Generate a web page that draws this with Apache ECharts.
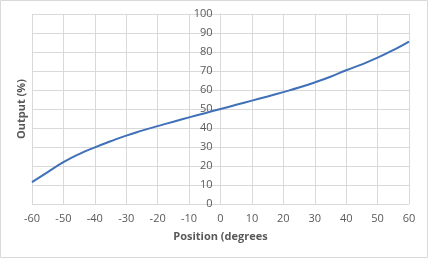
<!DOCTYPE html>
<html><head><meta charset="utf-8">
<script src="https://cdn.jsdelivr.net/npm/echarts@6/dist/echarts.min.js"></script>
<style>html,body{margin:0;padding:0;background:#fff}#c{width:428px;height:258px}</style>
</head><body><div id="c"></div>
<script>
const positions = [-60,-55,-50,-45,-40,-35,-30,-25,-20,-15,-10,-5,0,5,10,15,20,25,30,35,40,45,50,55,60];
const outputs = [11.5,16.8,22,26.3,29.8,33,36,38.6,41,43.3,45.6,47.8,50,52.2,54.4,56.6,58.9,61.3,64,67,70.4,73.5,77,81,85.5];
const xTitle = 'Position (degrees';
const yTitle = 'Output (%)';
const chart = echarts.init(document.getElementById('c'));
const txt = '#595959';
chart.setOption({
  animation:false,
  grid:{left:32,right:19,top:14,bottom:54},
  graphic:[
    {type:'rect',shape:{x:0.5,y:0.5,width:427,height:257},style:{fill:'none',stroke:'#d9d9d9',lineWidth:1}},
    {type:'text',x:22,y:109,rotation:Math.PI/2,style:{text:yTitle,fill:txt,font:'bold 11px "Open Sans", sans-serif',align:'center',verticalAlign:'middle'}}
  ],
  xAxis:{type:'value',min:-60,max:60,interval:10,
    name:xTitle,nameLocation:'middle',nameGap:27,
    nameTextStyle:{color:txt,fontWeight:'bold',fontSize:11,fontFamily:'"Open Sans", sans-serif'},
    axisLine:{show:false,onZero:false},axisTick:{show:false},
    axisLabel:{color:txt,fontSize:11,fontFamily:'"Open Sans", sans-serif',margin:9},
    splitLine:{show:true,lineStyle:{color:'#d9d9d9',width:1}}},
  yAxis:{type:'value',min:0,max:100,interval:10,position:'left',offset:-188.5,
    axisLine:{show:true,onZero:false,lineStyle:{color:'#d9d9d9',width:1}},axisTick:{show:false},
    axisLabel:{color:txt,fontSize:11,fontFamily:'"Open Sans", sans-serif',margin:8},
    splitLine:{show:true,lineStyle:{color:'#d9d9d9',width:1}}},
  series:[{type:'line',data:positions.map((p,i)=>[p,outputs[i]]),smooth:true,showSymbol:false,
    lineStyle:{color:'#3f70b8',width:2}}]
});
</script></body></html>
